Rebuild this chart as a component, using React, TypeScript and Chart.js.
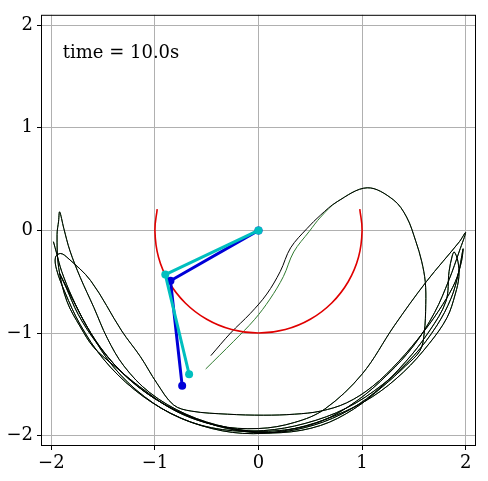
import React, { useEffect, useRef } from "react";
import { Chart, registerables } from "chart.js";

Chart.register(...registerables);

const xTicks = [-2, -1, 0, 1, 2];
const yTicks = [-2, -1, 0, 1, 2];
const timeLabel = "time = 10.0s";

// pendulum A (blue) and B (cyan): pivot, joint, bob
const blueX = [0, -0.85, -0.737];
const blueY = [0, -0.49, -1.514];
const cyanX = [0, -0.9, -0.67];
const cyanY = [0, -0.43, -1.4];

// trace of first bob (red arc)
const arcX = [-0.978, -1.0, -0.966, -0.866, -0.707, -0.5, -0.259, 0.0, 0.259, 0.5, 0.707, 0.866, 0.966, 1.0, 0.978];
const arcY = [0.208, 0.0, -0.259, -0.5, -0.707, -0.866, -0.966, -1.0, -0.966, -0.866, -0.707, -0.5, -0.259, 0.0, 0.208];

// trace of the second bob (black)
const traceX = [
  -1.98, -1.95, -1.9, -1.8, -1.66, -1.48, -1.25, -0.95, -0.6, -0.2, 0.2, 0.6, 0.95, 1.25, 1.5, 1.7, 1.84, 1.94, 2.0,
  1.94, 1.62, 1.31, 1.0, 0.64, 0.35, 0.0, -0.4, -0.8, -1.15, -1.38, -1.59, -1.72, -1.85, -1.93, -1.945, -1.93, -1.92,
  -1.88, -1.82, -1.72, -1.59, -1.46, -1.3, -1.05, -0.7, -0.3, 0.1, 0.45, 0.8, 1.12, 1.42, 1.65, 1.81, 1.84, 1.87, 1.89, 1.925, 1.935, 1.9,
  1.82, 1.65, 1.4, 1.1, 0.75, 0.35, -0.05, -0.45, -0.85, -1.2, -1.5, -1.72, -1.87, -1.95, -1.96, -1.91, -1.84,
  -1.62, -1.32, -1.14, -0.98, -0.82, -0.65, -0.3, 0.05, 0.35, 0.6, 0.85, 1.1, 1.35, 1.6, 1.78, 1.9, 1.96, 1.975,
  1.93, 1.86, 1.72, 1.5, 1.2, 0.85, 0.45, 0.05, -0.35, -0.75, -1.1, -1.4, -1.62, -1.78, -1.88, -1.92,
  -1.86, -1.74, -1.56, -1.32, -1.0, -0.62, -0.2, 0.22, 0.6, 0.92, 1.2, 1.42, 1.56, 1.6, 1.615, 1.61, 1.575, 1.52, 1.43, 1.3, 1.05, 0.76,
  0.6, 0.47, 0.31, 0.21, 0.08, -0.08, -0.27, -0.46,
];
const traceY = [
  -0.11, -0.22, -0.4, -0.65, -0.93, -1.2, -1.45, -1.67, -1.84, -1.94, -1.95, -1.86, -1.66, -1.4, -1.12, -0.8, -0.48, -0.2, -0.02,
  -0.11, -0.5, -0.93, -1.4, -1.74, -1.87, -1.93, -1.9, -1.76, -1.52, -1.33, -1.14, -0.94, -0.69, -0.36, -0.04, 0.09, 0.18,
  0.02, -0.2, -0.46, -0.75, -1.05, -1.32, -1.58, -1.79, -1.92, -1.97, -1.92, -1.79, -1.58, -1.28, -0.98, -0.69, -0.4, -0.25, -0.21, -0.3, -0.45, -0.62,
  -0.85, -1.1, -1.38, -1.62, -1.8, -1.93, -1.98, -1.93, -1.78, -1.55, -1.25, -0.92, -0.6, -0.38, -0.26, -0.225, -0.27,
  -0.49, -0.98, -1.23, -1.49, -1.7, -1.76, -1.79, -1.8, -1.79, -1.76, -1.68, -1.52, -1.28, -0.98, -0.72, -0.5, -0.3, -0.18,
  -0.42, -0.66, -0.93, -1.22, -1.5, -1.73, -1.88, -1.95, -1.94, -1.83, -1.62, -1.33, -1.0, -0.7, -0.5, -0.42,
  -0.55, -0.82, -1.1, -1.38, -1.64, -1.83, -1.95, -1.97, -1.9, -1.74, -1.52, -1.32, -1.17, -1.0, -0.72, -0.5, -0.3, -0.11, 0.13, 0.3, 0.415, 0.28,
  0.15, 0.02, -0.17, -0.4, -0.62, -0.81, -1.0, -1.22,
];
// second trace (green) shares the path until the last swing, then drifts
const greenTailX = [0.6, 0.49, 0.34, 0.24, 0.11, -0.04, -0.24, -0.51];
const greenTailY = [0.13, -0.01, -0.21, -0.45, -0.67, -0.87, -1.08, -1.35];

const zip = (xs: number[], ys: number[]) => xs.map((x, i) => ({ x, y: ys[i] }));
const fmt = (v: number) => (v < 0 ? "\u2212" + Math.abs(v) : String(v));
const FONT = { family: "'DejaVu Serif', serif", size: 18 };

export default function App() {
  const ref = useRef<HTMLCanvasElement | null>(null);
  useEffect(() => {
    document.body.style.margin = "0";
    const canvas = ref.current;
    if (!canvas) return;
    const split = traceX.length - greenTailX.length;
    const greenX = traceX.slice(0, split).concat(greenTailX);
    const greenY = traceY.slice(0, split).concat(greenTailY);
    const framePlugin = {
      id: "frame",
      afterDraw(chart: any) {
        const { ctx, chartArea } = chart;
        const { left, top, right, bottom } = chartArea;
        ctx.save();
        ctx.strokeStyle = "#000";
        ctx.lineWidth = 1;
        ctx.strokeRect(left + 0.5, top + 0.5, right - left - 1, bottom - top - 1);
        ctx.fillStyle = "#000";
        ctx.font = "18px 'DejaVu Serif', serif";
        ctx.textBaseline = "alphabetic";
        ctx.textAlign = "left";
        ctx.fillText(timeLabel, left + 0.05 * (right - left), bottom - 0.9 * (bottom - top));
        ctx.restore();
      },
    };
    const chart = new Chart(canvas, {
      type: "scatter",
      data: {
        datasets: [
          {
            data: zip(cyanX, cyanY),
            showLine: true,
            borderColor: "#00bfbf",
            backgroundColor: "#00bfbf",
            borderWidth: 3,
            pointRadius: 4,
            pointBorderWidth: 0,
            order: 0,
          },
          {
            data: zip(blueX, blueY),
            showLine: true,
            borderColor: "#0000d8",
            backgroundColor: "#0000d8",
            borderWidth: 3,
            pointRadius: 4,
            pointBorderWidth: 0,
            order: 1,
          },
          {
            data: zip(arcX, arcY),
            showLine: true,
            borderColor: "#e00000",
            borderWidth: 1.6,
            pointRadius: 0,
            tension: 0.4,
            order: 2,
          },
          {
            data: zip(traceX, traceY),
            showLine: true,
            borderColor: "#000",
            borderWidth: 1,
            pointRadius: 0,
            tension: 0.35,
            order: 3,
          },
          {
            data: zip(greenX, greenY),
            showLine: true,
            borderColor: "#2f7a2f",
            borderWidth: 1,
            pointRadius: 0,
            tension: 0.35,
            order: 4,
          },
        ],
      },
      options: {
        responsive: false,
        animation: false,
        events: [],
        layout: { padding: { left: 0, top: 11, right: 12, bottom: 0 } },
        plugins: { legend: { display: false }, tooltip: { enabled: false } },
        scales: {
          x: {
            type: "linear",
            min: -2.1,
            max: 2.1,
            afterBuildTicks: (s: any) => {
              s.ticks = xTicks.map((v) => ({ value: v }));
            },
            afterFit: (s: any) => {
              s.height = 35;
            },
            ticks: { font: FONT, color: "#000", padding: 3, maxRotation: 0, autoSkip: false, callback: (v: any) => fmt(Number(v)) },
            grid: { color: "#b0b0b0", lineWidth: 1, tickLength: 4, tickColor: "#000" },
            border: { display: false },
          },
          y: {
            type: "linear",
            min: -2.1,
            max: 2.1,
            afterBuildTicks: (s: any) => {
              s.ticks = yTicks.map((v) => ({ value: v }));
            },
            afterFit: (s: any) => {
              s.width = 41;
            },
            ticks: { font: FONT, color: "#000", padding: 4, autoSkip: false, callback: (v: any) => fmt(Number(v)) },
            grid: { color: "#b0b0b0", lineWidth: 1, tickLength: 4, tickColor: "#000" },
            border: { display: false },
          },
        },
      },
      plugins: [framePlugin],
    } as any);
    return () => chart.destroy();
  }, []);
  return (
    <div style={{ position: "absolute", left: 0, top: 0, width: 488, height: 481, background: "#fff" }}>
      <canvas ref={ref} width={488} height={481} style={{ display: "block" }} />
    </div>
  );
}
